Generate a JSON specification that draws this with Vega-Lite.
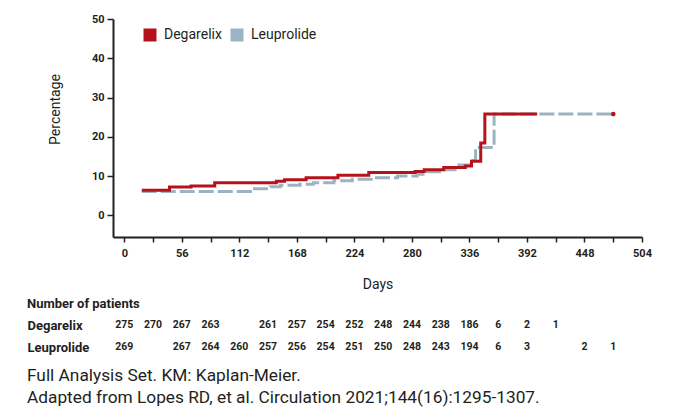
{
  "$schema": "https://vega.github.io/schema/vega-lite/v6.json",
  "padding": {"left": 27, "top": 13, "right": 5, "bottom": 5},
  "background": "white",
  "config": {
    "font": "Roboto",
    "view": {"stroke": null},
    "axis": {"grid": false, "labelColor": "#231f20", "titleColor": "#231f20", "domainColor": "#231f20", "tickColor": "#231f20"},
    "title": {"color": "#231f20", "subtitleColor": "#231f20"}
  },
  "datasets": {
    "curves": [
      {"group": "Leuprolide", "day": 17, "pct": 6.1},
      {"group": "Leuprolide", "day": 123, "pct": 6.8},
      {"group": "Leuprolide", "day": 142, "pct": 7.3},
      {"group": "Leuprolide", "day": 152, "pct": 7.7},
      {"group": "Leuprolide", "day": 171, "pct": 7.9},
      {"group": "Leuprolide", "day": 184, "pct": 8.3},
      {"group": "Leuprolide", "day": 204, "pct": 8.8},
      {"group": "Leuprolide", "day": 222, "pct": 9.2},
      {"group": "Leuprolide", "day": 243, "pct": 9.6},
      {"group": "Leuprolide", "day": 266, "pct": 10.0},
      {"group": "Leuprolide", "day": 285, "pct": 10.5},
      {"group": "Leuprolide", "day": 295, "pct": 11.1},
      {"group": "Leuprolide", "day": 311, "pct": 11.6},
      {"group": "Leuprolide", "day": 322, "pct": 12.8},
      {"group": "Leuprolide", "day": 337, "pct": 14.0},
      {"group": "Leuprolide", "day": 342, "pct": 17.3},
      {"group": "Leuprolide", "day": 360, "pct": 25.8},
      {"group": "Leuprolide", "day": 476, "pct": 25.8},
      {"group": "Degarelix", "day": 17, "pct": 6.4},
      {"group": "Degarelix", "day": 44, "pct": 7.2},
      {"group": "Degarelix", "day": 65, "pct": 7.5},
      {"group": "Degarelix", "day": 88, "pct": 8.3},
      {"group": "Degarelix", "day": 148, "pct": 8.7},
      {"group": "Degarelix", "day": 156, "pct": 9.1},
      {"group": "Degarelix", "day": 177, "pct": 9.6},
      {"group": "Degarelix", "day": 208, "pct": 10.2},
      {"group": "Degarelix", "day": 238, "pct": 10.9},
      {"group": "Degarelix", "day": 283, "pct": 11.2},
      {"group": "Degarelix", "day": 292, "pct": 11.6},
      {"group": "Degarelix", "day": 311, "pct": 12.2},
      {"group": "Degarelix", "day": 332, "pct": 12.6},
      {"group": "Degarelix", "day": 338, "pct": 13.8},
      {"group": "Degarelix", "day": 347, "pct": 18.4},
      {"group": "Degarelix", "day": 351, "pct": 25.8},
      {"group": "Degarelix", "day": 402, "pct": 25.8}
    ],
    "enddot": [{"day": 476, "pct": 25.8}],
    "atrisk": [
      {"group": "Degarelix", "day": 0, "n": 275},
      {"group": "Degarelix", "day": 28, "n": 270},
      {"group": "Degarelix", "day": 56, "n": 267},
      {"group": "Degarelix", "day": 84, "n": 263},
      {"group": "Degarelix", "day": 140, "n": 261},
      {"group": "Degarelix", "day": 168, "n": 257},
      {"group": "Degarelix", "day": 196, "n": 254},
      {"group": "Degarelix", "day": 224, "n": 252},
      {"group": "Degarelix", "day": 252, "n": 248},
      {"group": "Degarelix", "day": 280, "n": 244},
      {"group": "Degarelix", "day": 308, "n": 238},
      {"group": "Degarelix", "day": 336, "n": 186},
      {"group": "Degarelix", "day": 364, "n": 6},
      {"group": "Degarelix", "day": 392, "n": 2},
      {"group": "Degarelix", "day": 420, "n": 1},
      {"group": "Leuprolide", "day": 0, "n": 269},
      {"group": "Leuprolide", "day": 56, "n": 267},
      {"group": "Leuprolide", "day": 84, "n": 264},
      {"group": "Leuprolide", "day": 112, "n": 260},
      {"group": "Leuprolide", "day": 140, "n": 257},
      {"group": "Leuprolide", "day": 168, "n": 256},
      {"group": "Leuprolide", "day": 196, "n": 254},
      {"group": "Leuprolide", "day": 224, "n": 251},
      {"group": "Leuprolide", "day": 252, "n": 250},
      {"group": "Leuprolide", "day": 280, "n": 248},
      {"group": "Leuprolide", "day": 308, "n": 243},
      {"group": "Leuprolide", "day": 336, "n": 194},
      {"group": "Leuprolide", "day": 364, "n": 6},
      {"group": "Leuprolide", "day": 392, "n": 3},
      {"group": "Leuprolide", "day": 448, "n": 2},
      {"group": "Leuprolide", "day": 476, "n": 1}
    ]
  },
  "title": {
    "text": "Full Analysis Set. KM: Kaplan-Meier.",
    "subtitle": "Adapted from Lopes RD, et al. Circulation 2021;144(16):1295-1307.",
    "orient": "bottom",
    "anchor": "start",
    "frame": "bounds",
    "fontSize": 17.3,
    "fontWeight": "normal",
    "subtitleFontSize": 17.3,
    "subtitleFont": "Roboto",
    "subtitlePadding": 5,
    "offset": 9
  },
  "spacing": 7,
  "vconcat": [
    {
      "width": 529,
      "height": 218,
      "layer": [
        {
          "data": {"name": "curves"},
          "transform": [{"filter": "datum.group === 'Leuprolide'"}],
          "mark": {"type": "line", "interpolate": "step-after", "strokeWidth": 3, "strokeDash": [15, 4]},
          "encoding": {
            "x": {"field": "day", "type": "quantitative"},
            "y": {"field": "pct", "type": "quantitative"},
            "color": {"field": "group", "type": "nominal"}
          }
        },
        {
          "data": {"name": "curves"},
          "transform": [{"filter": "datum.group === 'Degarelix'"}],
          "mark": {"type": "line", "interpolate": "step-after", "strokeWidth": 3},
          "encoding": {
            "x": {"field": "day", "type": "quantitative"},
            "y": {"field": "pct", "type": "quantitative"},
            "color": {"field": "group", "type": "nominal"}
          }
        },
        {
          "data": {"name": "enddot"},
          "mark": {"type": "point", "filled": true, "fill": "#b5121b", "color": "#b5121b", "size": 22, "opacity": 1},
          "encoding": {
            "x": {"field": "day", "type": "quantitative"},
            "y": {"field": "pct", "type": "quantitative"}
          }
        }
      ],
      "encoding": {
        "x": {
          "field": "day", "type": "quantitative",
          "scale": {"domain": [-11, 504], "nice": false, "zero": false},
          "axis": {
            "title": "Days",
            "values": [0, 28, 56, 84, 112, 140, 168, 196, 224, 252, 280, 308, 336, 364, 392, 420, 448, 476, 504],
            "labelExpr": "datum.value % 56 === 0 ? datum.label : ''",
            "format": "d",
            "tickSize": 5, "tickWidth": 1.5, "domainWidth": 2,
            "labelFontSize": 11, "labelFontWeight": "bold", "labelPadding": 5,
            "titleFontSize": 14, "titleFontWeight": "normal", "titlePadding": 19,
            "labelFlush": false
          }
        },
        "y": {
          "field": "pct", "type": "quantitative",
          "scale": {"domain": [-5.5, 50], "nice": false, "zero": false},
          "axis": {
            "title": "Percentage",
            "values": [0, 10, 20, 30, 40, 50],
            "tickSize": 6, "tickWidth": 1.5, "domainWidth": 2,
            "labelFontSize": 11, "labelFontWeight": "bold", "labelPadding": 3,
            "titleFontSize": 14, "titleFontWeight": "normal", "titlePadding": 29,
            "titleY": 90, "labelFlush": false
          }
        },
        "color": {
          "field": "group", "type": "nominal",
          "scale": {"domain": ["Degarelix", "Leuprolide"], "range": ["#b5121b", "#9bb4c4"]},
          "legend": {
            "title": null, "orient": "none", "legendX": 30, "legendY": 9,
            "direction": "horizontal", "symbolType": "square", "symbolSize": 169,
            "symbolStrokeWidth": 0, "labelFontSize": 14, "labelColor": "#231f20",
            "labelOffset": 7, "columnPadding": 8,
            "encode": {"symbols": {"update": {"fill": {"scale": "color", "field": "value"}, "opacity": {"value": 1}}}}
          }
        }
      }
    },
    {
      "width": 529,
      "height": 44,
      "data": {"name": "atrisk"},
      "title": {"text": "Number of patients", "anchor": "start", "frame": "bounds", "fontSize": 13, "fontWeight": "bold", "offset": 3},
      "mark": {"type": "text", "fontSize": 10.5, "fontWeight": "bold", "color": "#231f20"},
      "encoding": {
        "x": {"field": "day", "type": "quantitative", "scale": {"domain": [-11, 504], "nice": false, "zero": false}, "axis": null},
        "y": {
          "field": "group", "type": "nominal",
          "scale": {"domain": ["Degarelix", "Leuprolide"]},
          "axis": {"title": null, "domain": false, "ticks": false, "labelAlign": "left", "labelPadding": 86, "labelFontSize": 13, "labelFontWeight": "bold", "labelColor": "#231f20"}
        },
        "text": {"field": "n", "type": "quantitative"}
      }
    }
  ]
}
